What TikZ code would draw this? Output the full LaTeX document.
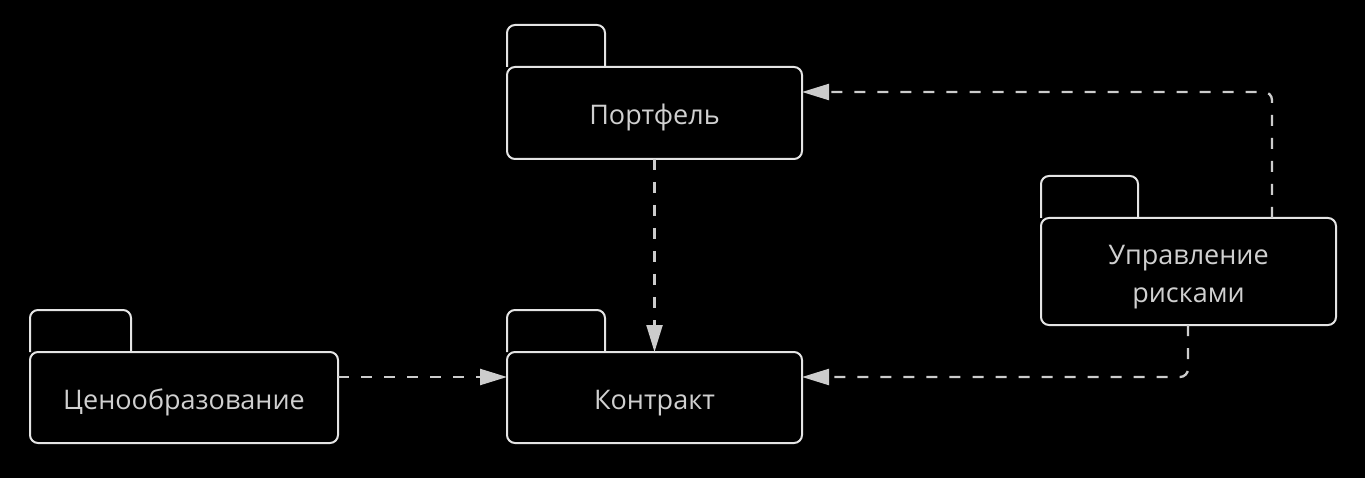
\documentclass[tikz,border=0pt]{standalone}
\usepackage{fontspec}
\setmainfont{Open Sans}
\usetikzlibrary{arrows.meta}
\definecolor{linec}{HTML}{E4E4E4}
\definecolor{arrc}{HTML}{CCCCCC}
\definecolor{textc}{HTML}{D0D0D0}
\newcommand{\pkgtext}[1]{\raisebox{-4pt}[\height][\depth]{\begin{tabular}{@{}c@{}}#1\end{tabular}}}
\tikzset{
  pkg/.style={draw=linec, line width=2pt, rounded corners=8pt, fill=black, text=textc,
    font=\fontsize{27}{38}\selectfont, align=center, inner sep=0pt, outer sep=0pt, anchor=north west},
  tab/.style={draw=linec, line width=2pt, rounded corners=8pt},
  dep/.style={draw=arrc, line width=2.3pt, dash pattern=on 11pt off 12pt, rounded corners=8pt,
    -{Triangle[length=27pt,width=16pt]}}
}
\begin{document}
\begin{tikzpicture}[x=1pt,y=-1pt]
\fill[black] (0,0) rectangle (1365,478);
\useasboundingbox (0,0) rectangle (1365,478);
\node[pkg, minimum width=295pt, minimum height=92pt] (portfel) at (507,67) {\pkgtext{Портфель}};
\node[pkg, minimum width=295pt, minimum height=91pt] (kontrakt) at (507,352) {\pkgtext{Контракт}};
\node[pkg, minimum width=308pt, minimum height=91pt] (tseno) at (30,352) {\pkgtext{Ценообразование}};
\node[pkg, minimum width=295pt, minimum height=107pt] (upr) at (1041,218) {\pkgtext{Управление\\рисками}};
\draw[tab] (portfel.north west) -- ++(0,-42) -- ++(98,0) -- ++(0,42);
\draw[tab] (kontrakt.north west) -- ++(0,-42) -- ++(98,0) -- ++(0,42);
\draw[tab] (tseno.north west) -- ++(0,-42) -- ++(101,0) -- ++(0,42);
\draw[tab] (upr.north west) -- ++(0,-42) -- ++(97,0) -- ++(0,42);
\draw[dep] (portfel.south) -- (kontrakt.north);
\draw[dep] ([yshift=-25pt]tseno.north east) -- ([yshift=-25pt]kontrakt.north west);
\draw[dep] ([xshift=231pt]upr.north west) |- ([yshift=-25pt]portfel.north east);
\draw[dep] ([xshift=147pt]upr.south west) |- ([yshift=-25pt]kontrakt.north east);
\end{tikzpicture}
\end{document}
